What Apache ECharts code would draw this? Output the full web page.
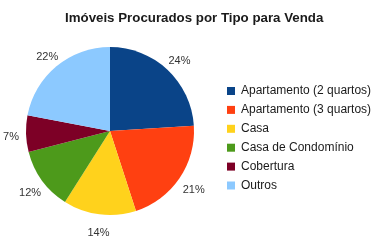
<!DOCTYPE html>
<html><head><meta charset="utf-8">
<script src="https://cdn.jsdelivr.net/npm/echarts@6/dist/echarts.min.js"></script>
<style>html,body{margin:0;padding:0;background:#fff}#c{width:380px;height:244px}</style>
</head><body><div id="c"></div>
<script>
var categories = ['Apartamento (2 quartos)','Apartamento (3 quartos)','Casa','Casa de Condomínio','Cobertura','Outros'];
var values = [24, 21, 14, 12, 7, 22];
var colors = ['#0a4488','#ff4011','#ffd21c','#4d9a1b','#7d0026','#8cc9ff'];
var chart = echarts.init(document.getElementById('c'), null, {renderer:'canvas'});
var pieData = categories.map(function(n,i){return {name:n, value:values[i]};});
chart.setOption({
  animation:false,
  color: colors,
  title:{text:'Imóveis Procurados por Tipo para Venda', left:60, top:7,
    textStyle:{fontFamily:'Liberation Sans, Arial', fontSize:13.3, fontWeight:'bold', color:'#1a1a1a'}},
  legend:{orient:'vertical', left:222, top:80, itemWidth:8, itemHeight:8, itemGap:6.9, icon:'rect',
    textStyle:{fontFamily:'Liberation Sans, Arial', fontSize:12, color:'#1a1a1a', padding:[0,0,0,1]},
    data:categories},
  series:[{type:'pie', center:[110,131], radius:[0,84], startAngle:90, clockwise:true,
    data: pieData,
    label:{show:false},
    labelLine:{show:false},
    itemStyle:{borderWidth:0},
    emphasis:{disabled:true}
  },{type:'pie', center:[111,134], radius:[84,110], startAngle:90, clockwise:true,
    data: pieData, silent:true, legendHoverLink:false,
    label:{show:true, position:'inside', formatter:'{d}%', fontFamily:'Liberation Sans, Arial', fontSize:11, color:'#333',
      textBorderWidth:0},
    labelLine:{show:false},
    itemStyle:{color:'rgba(0,0,0,0)', borderWidth:0},
    emphasis:{disabled:true}
  }]
});
</script></body></html>
